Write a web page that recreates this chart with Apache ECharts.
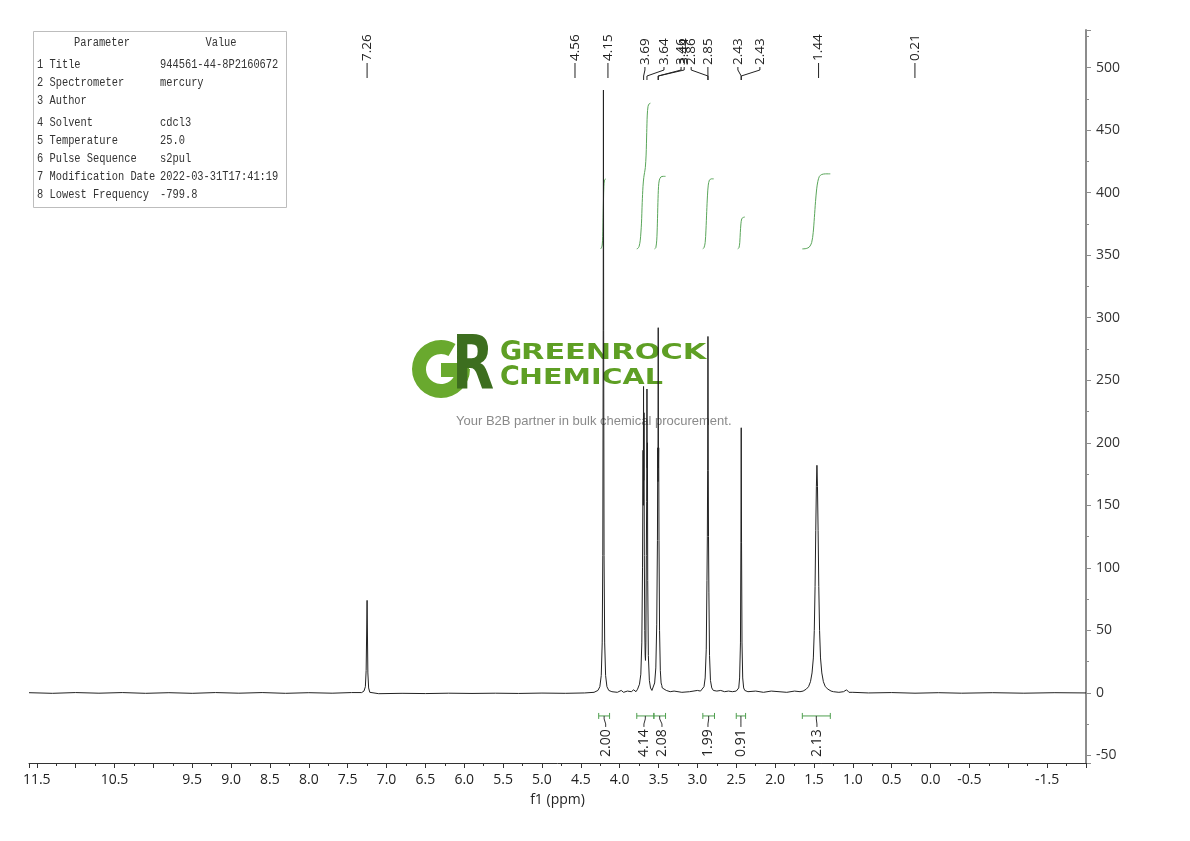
<!DOCTYPE html>
<html><head><meta charset="utf-8">
<script src="https://cdn.jsdelivr.net/npm/echarts@6.0.0/dist/echarts.min.js"></script>
<style>html,body{margin:0;padding:0;background:#fff}#c{width:1190px;height:841px}</style>
</head><body><div id="c"></div>
<script>
// ---------- DATA ----------
const xTickLabels = ['11.5','10.5','9.5','9.0','8.5','8.0','7.5','7.0','6.5','6.0','5.5','5.0','4.5','4.0','3.5','3.0','2.5','2.0','1.5','1.0','0.5','0.0','-0.5','-1.5'];
const yTickLabels = [-50,0,50,100,150,200,250,300,350,400,450,500];

// spectrum pieces [ppm, intensity], descending ppm
const baseA = [[11.6,0.2],[11.3,-0.3],[11.0,0.3],[10.7,-0.2],[10.4,0.3],[10.1,-0.3],[9.8,0.2],[9.5,-0.3],[9.2,0.3],[8.9,-0.2],[8.6,0.3],[8.3,-0.3],[8.0,0.2],[7.7,-0.2],[7.45,0.3]];
const peak726 = [[7.32,0.3],[7.29,1.5],[7.272,5],[7.262,18],[7.25,74],[7.24,16],[7.23,4],[7.215,0.5],[7.19,-1]];
const baseB = [[7.1,-0.6],[6.8,-0.3],[6.5,-0.5],[6.2,-0.2],[5.9,-0.4],[5.6,-0.2],[5.3,-0.4],[5.0,-0.1],[4.7,-0.3],[4.45,0]];
const peak421 = [[4.33,0.5],[4.28,2],[4.255,5],[4.237,14],[4.225,40],[4.217,110],[4.212,290],[4.209,482],[4.206,290],[4.201,110],[4.193,40],[4.181,14],[4.164,5],[4.14,2],[4.1,1]];
const baseC = [[4.08,1],[4.03,0.5],[3.98,2],[3.95,0.5],[3.9,1.5],[3.85,1],[3.82,2.5],[3.79,1]];
const peak369 = [[3.77,3],[3.745,7],[3.728,15],[3.715,40],[3.706,100],[3.699,194],[3.696,150],[3.693,245],[3.69,170],[3.687,224],[3.683,110],[3.677,50],[3.672,30],[3.668,26],[3.663,40],[3.657,110],[3.653,153],[3.649,243],[3.646,180],[3.643,200],[3.639,90],[3.631,30],[3.618,10],[3.603,4],[3.585,2]];
const peak350 = [[3.57,3],[3.55,8],[3.535,20],[3.523,55],[3.514,122],[3.51,196],[3.507,169],[3.504,292],[3.501,180],[3.498,196],[3.494,122],[3.487,50],[3.477,18],[3.467,8],[3.458,6],[3.452,4],[3.44,3]];
const baseD = [[3.4,2],[3.35,1],[3.3,1.5],[3.2,0.5],[3.1,1],[3.0,2],[2.96,1.5]];
const peak286 = [[2.94,2],[2.915,5],[2.9,12],[2.886,35],[2.877,90],[2.872,125],[2.868,178],[2.864,285],[2.86,178],[2.857,125],[2.852,80],[2.844,30],[2.832,10],[2.815,4],[2.795,2]];
const baseE = [[2.75,1.5],[2.7,2],[2.65,1],[2.6,1.5],[2.55,1],[2.5,1.5]];
const peak244 = [[2.49,1.5],[2.468,4],[2.457,12],[2.446,40],[2.44,120],[2.436,212],[2.432,120],[2.426,40],[2.417,12],[2.405,4],[2.39,2]];
const baseF = [[2.35,1],[2.25,1.5],[2.15,0.5],[2.05,1.5],[1.95,1],[1.85,0.5],[1.75,1.5],[1.68,1]];
const peak146 = [[1.64,1.5],[1.6,3],[1.57,5],[1.545,9],[1.525,16],[1.508,28],[1.496,50],[1.486,85],[1.477,130],[1.469,165],[1.462,182],[1.455,165],[1.447,130],[1.438,85],[1.428,50],[1.416,28],[1.399,16],[1.379,9],[1.354,5],[1.32,3],[1.28,1.5]];
const baseG = [[1.25,1],[1.18,0.5],[1.12,1],[1.08,2.5],[1.05,0.5],[1.0,0.5],[0.8,0],[0.5,0.3],[0.2,-0.2],[-0.1,0.2],[-0.4,-0.2],[-0.8,0.2],[-1.2,-0.2],[-1.6,0.2],[-2.0,0]];

// integral curves [ppm, level]
const int1 = [[4.245,355],[4.235,356],[4.225,358],[4.218,365],[4.213,380],[4.208,395],[4.203,405],[4.195,410],[4.18,411]];
const int2 = [[3.78,355],[3.765,355.5],[3.75,357],[3.735,362],[3.72,375],[3.71,392],[3.7,405],[3.69,412],[3.68,416],[3.67,420],[3.66,430],[3.652,448],[3.645,462],[3.635,469],[3.62,471],[3.605,471.5]];
const int3 = [[3.55,355],[3.535,356],[3.523,362],[3.515,375],[3.508,392],[3.5,405],[3.49,410],[3.47,412.5],[3.44,413],[3.41,413]];
const int4 = [[2.93,355],[2.915,356],[2.9,360],[2.89,370],[2.88,385],[2.87,398],[2.86,406],[2.845,410],[2.82,411],[2.79,411]];
const int5 = [[2.48,355],[2.465,356],[2.455,360],[2.448,368],[2.44,375],[2.43,379],[2.415,380],[2.39,380.5]];
const int6 = [[1.65,355],[1.6,355.3],[1.56,356.5],[1.53,360],[1.51,368],[1.495,380],[1.48,393],[1.465,403],[1.45,409],[1.43,413],[1.4,414.5],[1.35,415],[1.29,415]];

// integration ranges and values
const intFrom = [4.27,3.78,3.56,2.93,2.50,1.65];
const intTo = [4.13,3.56,3.41,2.78,2.38,1.29];
const intText = ['2.00','4.14','2.08','1.99','0.91','2.13'];
const intLabelAt = [4.18,3.688,3.456,2.864,2.44,1.462];

// peak picking labels
const topLabelText = ['7.26','4.56','4.15','3.69','3.64','3.46','3.44','2.86','2.85','2.43','2.43','1.44','0.21'];
const topLabelAt = [7.25,4.575,4.151,3.675,3.43,3.21,3.17,3.08,2.865,2.479,2.196,1.441,0.201];
const topLabelTarget = [7.25,4.575,4.151,3.692,3.649,3.504,3.504,2.864,2.864,2.436,2.436,1.441,0.201];
const topLabelDirect = [1,1,1,0,0,0,0,0,0,0,0,1,1];

// parameter table
const paramNames = ['1 Title','2 Spectrometer','3 Author','4 Solvent','5 Temperature','6 Pulse Sequence','7 Modification Date','8 Lowest Frequency'];
const paramValues = ['944561-44-8P2160672','mercury','','cdcl3','25.0','s2pul','2022-03-31T17:41:19','-799.8'];

// ---------- BUILD ----------
const spectrum = [].concat(baseA, peak726, baseB, peak421, baseC, peak369, peak350, baseD, peak286, baseE, peak244, baseF, peak146, baseG);
const integrals = [int1,int2,int3,int4,int5,int6];
const FONT = '"Open Sans", "Noto Sans", sans-serif';
const MONO = '"Liberation Mono", "DejaVu Sans Mono", monospace';

const chart = echarts.init(document.getElementById('c'), null, {renderer:'canvas'});

const series = [];
series.push({type:'line', data: spectrum, symbol:'none', showSymbol:false, silent:true, animation:false, z:5,
  lineStyle:{color:'#222', width:1}});
integrals.forEach(d => series.push({type:'line', data:d, symbol:'none', showSymbol:false, silent:true, animation:false, z:4,
  smooth:0.3, lineStyle:{color:'#5aa65a', width:1}}));

// top peak labels
series.push({type:'custom', silent:true, animation:false, clip:false, z:6,
  data: topLabelAt.map((p,i)=>[p, topLabelTarget[i], i]),
  encode:{x:0, y:1},
  renderItem(params, api){
    const i = api.value(2);
    const lx = api.coord([api.value(0), 0])[0];
    const tx = api.coord([api.value(1), 0])[0];
    const top = params.coordSys.y;
    const st = {text: topLabelText[i], fontSize:13.5, fontFamily:FONT, fill:'#222', align:'left', verticalAlign:'middle'};
    if (topLabelDirect[i]) {
      return {type:'group', children:[
        {type:'line', shape:{x1:lx, y1:top+48, x2:lx, y2:top+33}, style:{stroke:'#222', lineWidth:1}},
        {type:'text', x:lx, y:top+31, rotation:Math.PI/2, style:st}
      ]};
    }
    return {type:'group', children:[
      {type:'polyline', shape:{points:[[lx, top+37],[lx, top+40],[tx, top+46],[tx, top+50]]}, style:{stroke:'#222', lineWidth:1, fill:null}},
      {type:'text', x:lx, y:top+35, rotation:Math.PI/2, style:st}
    ]};
  }
});

// integration brackets + values
series.push({type:'custom', silent:true, animation:false, clip:false, z:6,
  data: intFrom.map((f,i)=>[f, intTo[i], i]),
  encode:{x:0, y:1},
  renderItem(params, api){
    const i = api.value(2);
    const x1 = api.coord([api.value(0), 0])[0];
    const x2 = api.coord([api.value(1), 0])[0];
    const y0 = api.coord([0, 0])[1];
    const lx = api.coord([intLabelAt[i], 0])[0];
    const yb = y0 + 23;
    const cx = (x1 + x2) / 2;
    const g = '#4f9f4f';
    return {type:'group', children:[
      {type:'line', shape:{x1:x1, y1:yb, x2:x2, y2:yb}, style:{stroke:g, lineWidth:1}},
      {type:'line', shape:{x1:x1, y1:yb-3, x2:x1, y2:yb+3}, style:{stroke:g, lineWidth:1}},
      {type:'line', shape:{x1:x2, y1:yb-3, x2:x2, y2:yb+3}, style:{stroke:g, lineWidth:1}},
      {type:'polyline', shape:{points:[[cx, yb],[cx, yb+3],[lx, yb+8],[lx, yb+11]]}, style:{stroke:'#333', lineWidth:1, fill:null}},
      {type:'text', x:lx, y:y0+64, rotation:Math.PI/2, style:{text:intText[i], fontSize:14, fontFamily:FONT, fill:'#222', align:'left', verticalAlign:'middle'}}
    ]};
  }
});

// graphics: parameter table + watermark
const graphics = [];
graphics.push({type:'rect', z:1, shape:{x:33.5, y:31.5, width:253, height:176}, style:{fill:'#fff', stroke:'#bdbdbd', lineWidth:1}});
const tStyle = (t, align) => ({text:t, font:'12.5px '+MONO, fill:'#333', align:align, verticalAlign:'middle'});
graphics.push({type:'text', x:102, y:43, z:2, scaleX:0.83, style:tStyle('Parameter','center')});
graphics.push({type:'text', x:221, y:43, z:2, scaleX:0.83, style:tStyle('Value','center')});
const rowY = [65,83,101,123,141,159,177,195];
paramNames.forEach((n,i)=>{
  graphics.push({type:'text', x:37, y:rowY[i], z:2, scaleX:0.83, style:tStyle(n,'left')});
  graphics.push({type:'text', x:160, y:rowY[i], z:2, scaleX:0.83, style:tStyle(paramValues[i],'left')});
});
// watermark logo
const lg = '#69a92e', dg = '#3d6e1f', tg = '#5e9f24';
graphics.push({type:'sector', z:0, shape:{cx:441, cy:369, r:29, r0:15, startAngle:0, endAngle:Math.PI*5/3, clockwise:true}, style:{fill:lg}});
graphics.push({type:'rect', z:0, shape:{x:441, y:363, width:28, height:14}, style:{fill:lg}});
graphics.push({type:'text', z:0, x:452, y:370, scaleX:0.74, style:{text:'R', font:'bold 74px "DejaVu Sans"', fill:dg, align:'left', verticalAlign:'middle'}});
graphics.push({type:'text', z:0, x:500, y:353, style:{text:'G', font:'bold 27px "DejaVu Sans"', fill:tg, align:'left', verticalAlign:'middle'}});
graphics.push({type:'text', z:0, x:521, y:353, scaleX:1.38, style:{text:'REENROCK', font:'bold 22px "DejaVu Sans"', fill:tg, align:'left', verticalAlign:'middle'}});
graphics.push({type:'text', z:0, x:500, y:378, style:{text:'C', font:'bold 27px "DejaVu Sans"', fill:tg, align:'left', verticalAlign:'middle'}});
graphics.push({type:'text', z:0, x:519, y:378, scaleX:1.3, style:{text:'HEMICAL', font:'bold 22px "DejaVu Sans"', fill:tg, align:'left', verticalAlign:'middle'}});
graphics.push({type:'text', z:0, x:456, y:421, style:{text:'Your B2B partner in bulk chemical procurement.', font:'13px "Liberation Sans", Arial, sans-serif', fill:'#8a8a8a', align:'left', verticalAlign:'middle'}});

const option = {
  animation:false,
  backgroundColor:'#fff',
  grid:{left:29, right:104, top:30, bottom:78, containLabel:false},
  xAxis:{type:'value', inverse:true, min:-2.0, max:11.6, interval:0.5,
    name:'f1 (ppm)', nameLocation:'middle', nameGap:30,
    nameTextStyle:{fontSize:14, fontFamily:FONT, color:'#222'},
    axisLine:{onZero:false, lineStyle:{color:'#333', width:1}},
    axisTick:{show:true, length:5, lineStyle:{color:'#333'}},
    minorTick:{show:true, splitNumber:2, length:3, lineStyle:{color:'#333'}},
    splitLine:{show:false},
    axisLabel:{fontSize:14, fontFamily:FONT, color:'#222', margin:10, showMinLabel:true, showMaxLabel:true, hideOverlap:false,
      formatter:(v)=>{const s=Number(v).toFixed(1); return xTickLabels.indexOf(s)>=0 ? s : '';}}
  },
  yAxis:{type:'value', position:'right', min:-56, max:530, splitNumber:12,
    axisLine:{show:true, onZero:false, lineStyle:{color:'#8c8c8c', width:2}},
    axisTick:{show:true, length:5, lineStyle:{color:'#8c8c8c'}},
    minorTick:{show:true, splitNumber:2, length:3, lineStyle:{color:'#8c8c8c'}},
    splitLine:{show:false},
    axisLabel:{fontSize:14, fontFamily:FONT, color:'#333', margin:10, hideOverlap:false,
      formatter:(v)=> yTickLabels.indexOf(Math.round(v))>=0 && Math.abs(v-Math.round(v))<1e-6 ? String(Math.round(v)) : ''}
  },
  graphic:{elements:graphics},
  series: series
};
chart.setOption(option);
</script>
</body></html>
